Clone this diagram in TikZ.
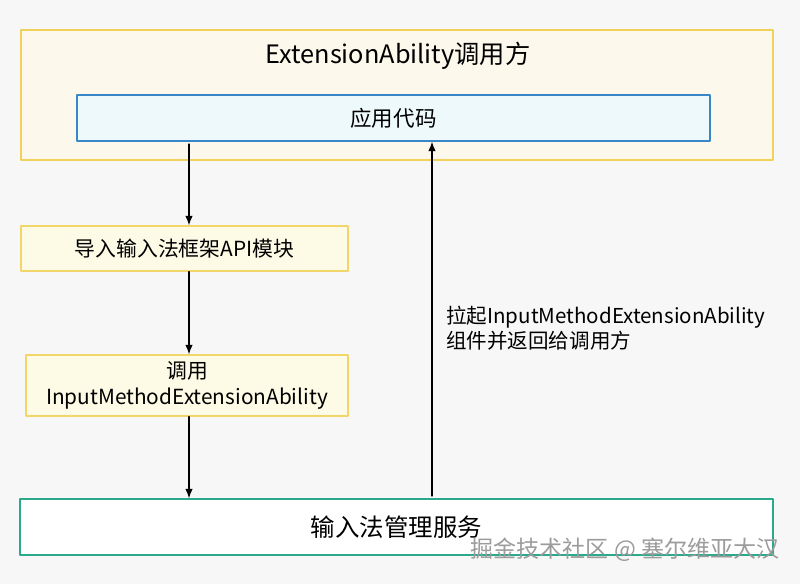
\documentclass[tikz,border=0pt]{standalone}
\usepackage{fontspec}
\setmainfont{Noto Sans CJK SC}
\usepackage{tikz}
\usetikzlibrary{arrows.meta}

\definecolor{pagebg}{HTML}{F7F7F7}
\definecolor{callerfill}{HTML}{FCF8EC}
\definecolor{callerline}{HTML}{F0D25A}
\definecolor{codefill}{HTML}{EEF9FC}
\definecolor{codeline}{HTML}{3A87C8}
\definecolor{stepfill}{HTML}{FDFAE6}
\definecolor{stepline}{HTML}{F3D66A}
\definecolor{imsline}{HTML}{2AAA8A}
\definecolor{markgray}{HTML}{9C9C9C}

\begin{document}
\begin{tikzpicture}[x=0.025cm,y=-0.025cm,>={Latex[length=2.4mm,width=1.9mm]},
    line cap=round,line join=round,
    box/.style={draw,line width=0.9pt,inner sep=0pt,align=center,font=\fontsize{14.8}{18.5}\selectfont},
    flow/.style={->,line width=0.9pt}]
            \fill[pagebg] (0,0) rectangle (800,584);
            \useasboundingbox (0,0) rectangle (800,584);

            \node[box,draw=callerline,fill=callerfill,minimum width=18.8cm,minimum height=3.25cm] (caller) at (397,95) {};
            \node[font=\fontsize{18}{22}\selectfont] (title) at (398,56) {ExtensionAbility调用方};
            \node[box,draw=codeline,fill=codefill,minimum width=15.825cm,minimum height=1.15cm,font=\fontsize{15.3}{19}\selectfont] (code) at (393.5,118) {应用代码};

            \node[box,draw=stepline,fill=stepfill,minimum width=8.175cm,minimum height=1.125cm] (import) at (184.5,248.5) {导入输入法框架API模块};
            \node[box,draw=stepline,fill=stepfill,minimum width=8.05cm,minimum height=1.525cm] (invoke) at (187,385.5) {调用\\InputMethodExtensionAbility};

            \node[box,draw=imsline,fill=white,minimum width=18.825cm,minimum height=1.4cm,font=\fontsize{17.4}{21}\selectfont] (imms) at (396.5,527) {输入法管理服务};

            \coordinate (down) at (189,0);
            \coordinate (up) at (432,0);

            \draw[flow] ([yshift=-0.06cm]code.south -| down) -- (import.north -| down);
            \draw[flow] (import.south -| down) -- (invoke.north -| down);
            \draw[flow] (invoke.south -| down) -- (imms.north -| down);
            \draw[flow] ([yshift=0.06cm]imms.north -| up) -- (code.south -| up);

            \node[anchor=west,align=left,inner sep=0pt,font=\fontsize{14.6}{17.8}\selectfont] (pull) at (446,328.5) {拉起InputMethodExtensionAbility\\组件并返回给调用方};

            \node[text=markgray,font=\fontsize{16.4}{19}\selectfont] (mark) at (625,550) {掘金技术社区 @ 塞尔维亚大汉};
        \end{tikzpicture}
\end{document}
